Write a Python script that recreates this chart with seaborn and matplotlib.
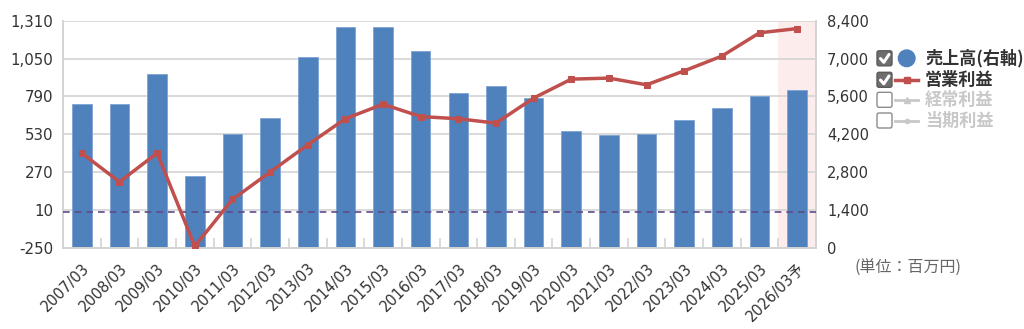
import matplotlib
matplotlib.use("Agg")
import matplotlib.pyplot as plt
from matplotlib.patches import FancyBboxPatch, Circle
from matplotlib.lines import Line2D
from matplotlib.ticker import FuncFormatter
import seaborn as sns
import numpy as np

# Fiscal years (March year-end); last one is the company forecast
categories = ['2007/03', '2008/03', '2009/03', '2010/03', '2011/03', '2012/03',
              '2013/03', '2014/03', '2015/03', '2016/03', '2017/03', '2018/03',
              '2019/03', '2020/03', '2021/03', '2022/03', '2023/03', '2024/03',
              '2025/03', '2026/03予']
# Net sales (right axis, million yen)
sales = [5320, 5320, 6440, 2650, 4210, 4820, 7050, 8150, 8150, 7290,
         5720, 5980, 5530, 4310, 4160, 4210, 4720, 5170, 5630, 5840]
# Operating profit (left axis, million yen)
op_profit = [401, 204, 401, -238, 83, 271, 458, 637, 737, 652,
             637, 607, 779, 909, 916, 870, 966, 1067, 1227, 1256]

left_ticks = [-250, 10, 270, 530, 790, 1050, 1310]
right_ticks = [0, 1400, 2800, 4200, 5600, 7000, 8400]
legend_labels = ['売上高(右軸)', '営業利益', '経常利益', '当期利益']
unit_label = '(単位：百万円)'

BLUE = '#4F81BD'
RED = '#C0504D'
GRID = '#D3D3D3'
TXT = '#333333'
MUTED = '#C8C8C8'

plt.rcParams['font.family'] = ['DejaVu Sans', 'Noto Sans CJK JP']

fig = plt.figure(figsize=(10.24, 3.29), dpi=100)
W, H = 1024, 329
x0, x1, y0, y1 = 63, 816, 20.7, 248
ax_bar = fig.add_axes([x0 / W, 1 - y1 / H, (x1 - x0) / W, (y1 - y0) / H])
ax_line = ax_bar.twinx()

n = len(categories)
idx = np.arange(n)

# forecast column highlight
ax_bar.axvspan(n - 1.5, n - 0.5, color='#FDECEC', zorder=0, lw=0)

sns.barplot(x=categories, y=sales, ax=ax_bar, color=BLUE, width=0.52,
            saturation=1, edgecolor='#7FA3D3', linewidth=0.6, zorder=2)

ax_bar.set_xlim(-0.5, n - 0.5)
ax_bar.set_ylim(0, 8400)
ax_bar.set_yticks(right_ticks)
ax_bar.yaxis.set_major_formatter(FuncFormatter(lambda v, p: f'{int(v):,}'))
ax_bar.yaxis.tick_right()
ax_bar.set_axisbelow(True)
ax_bar.grid(axis='y', color=GRID, lw=1.2, zorder=0.5)
ax_bar.set_xlabel('')
ax_bar.set_ylabel('')

ax_bar.set_xticks(idx)
ax_bar.set_xticklabels(categories, rotation=45, ha='right', rotation_mode='anchor',
                       fontsize=10.5, color=TXT)
ax_bar.set_xticks(idx[:-1] + 0.5, minor=True)
ax_bar.tick_params(axis='x', which='major', length=0, pad=9)
ax_bar.tick_params(axis='x', which='minor', length=7, direction='in', color=GRID, width=1.2)
ax_bar.tick_params(axis='y', length=0, pad=8, labelsize=10.5, labelcolor=TXT)

# operating profit line on the left axis
sns.lineplot(x=idx, y=op_profit, ax=ax_line, color=RED, lw=2.5, marker='s',
             markersize=5, markeredgecolor=RED, zorder=4)
ax_line.axhline(0, color='#5E4A8A', lw=1.2, ls=(0, (4, 3)), zorder=3)
ax_line.set_ylim(-250, 1310)
ax_line.set_yticks(left_ticks)
ax_line.yaxis.set_major_formatter(FuncFormatter(lambda v, p: f'{int(v):,}'))
ax_line.yaxis.tick_left()
ax_line.tick_params(axis='y', length=0, pad=7, labelsize=10.8, labelcolor=TXT)
ax_line.set_ylabel('')
ax_line.set_xlim(-0.5, n - 0.5)

for a in (ax_bar, ax_line):
    for s in ('left', 'right', 'bottom'):
        a.spines[s].set_color(GRID)
        a.spines[s].set_linewidth(1.2)
    a.spines['top'].set_visible(False)

# legend with checkboxes, drawn in pixel space
lg = fig.add_axes([0, 0, 1, 1])
lg.set_xlim(0, W)
lg.set_ylim(H, 0)
lg.axis('off')

rows_y = [58.3, 79.8, 99.8, 120.5]
checked = [True, True, False, False]
text_colors = [TXT, TXT, MUTED, MUTED]
for i, (yy, chk) in enumerate(zip(rows_y, checked)):
    box = FancyBboxPatch((877, yy - 7.5), 15, 15,
                         boxstyle='round,pad=0,rounding_size=2',
                         fc='#6E6E6E' if chk else 'white',
                         ec='#5A5A5A' if chk else '#8C8C8C', lw=1)
    lg.add_patch(box)
    if chk:
        lg.add_line(Line2D([880.5, 883.8, 889], [yy + 0.3, yy + 4, yy - 3.8],
                           color='white', lw=2.2, solid_capstyle='round'))
    lg.text(925, yy, legend_labels[i], fontsize=12.3, fontweight='bold',
            color=text_colors[i], va='center', ha='left',
            family=['Noto Sans CJK JP', 'DejaVu Sans'])

lg.add_patch(Circle((906.7, rows_y[0]), 8.3, color=BLUE))
lg.add_line(Line2D([895, 918], [rows_y[1]] * 2, color=RED, lw=2.5))
lg.plot([906.5], [rows_y[1]], marker='s', markersize=5, color=RED)
lg.add_line(Line2D([895, 918], [rows_y[2]] * 2, color=MUTED, lw=2))
lg.plot([906.5], [rows_y[2]], marker='^', markersize=5, color=MUTED)
lg.add_line(Line2D([895, 918], [rows_y[3]] * 2, color=MUTED, lw=2))
lg.plot([906.5], [rows_y[3]], marker='o', markersize=3, color=MUTED)

lg.text(855, 268, unit_label, fontsize=11.5, color='#666666', va='center', ha='left',
        family=['Noto Sans CJK JP', 'DejaVu Sans'])

fig.savefig('out.png', dpi=100)
